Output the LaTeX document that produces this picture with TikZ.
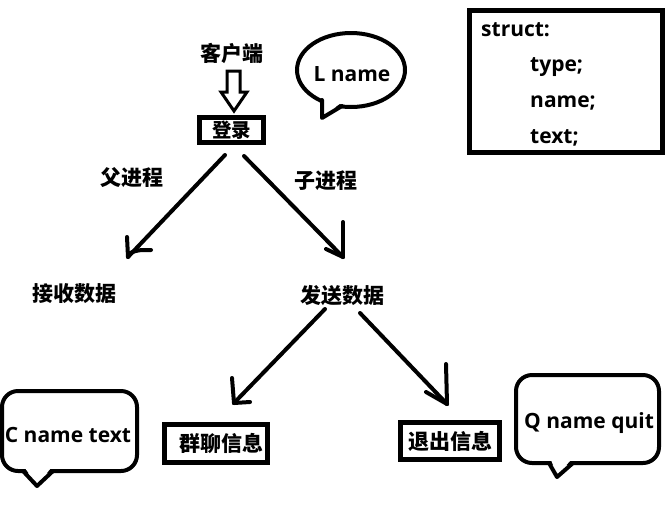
\documentclass[tikz,border=0pt]{standalone}
\usepackage{fontspec}
\setmainfont{Open Sans}
\newfontfamily\cjk{Noto Sans CJK SC}
\tikzset{
  cn/.style={inner sep=0pt, font=\cjk\bfseries\fontsize{21}{25}\selectfont},
  lt/.style={inner sep=0pt, font=\bfseries\fontsize{21}{25}\selectfont},
  ink/.style={line width=4pt, line cap=round, line join=round},
  boxline/.style={line width=5pt},
}
\begin{document}
\begin{tikzpicture}[x=1pt,y=-1pt]
\useasboundingbox (0,0) rectangle (671,523);
% client and login
\node[cn] (client) at (232,53) {客户端};
\draw[line width=3pt, line join=miter] (227,71) -- (240,71) -- (240,92) -- (247,92) -- (234,111) -- (221,92) -- (227,92) -- cycle;
\node[cn, draw, boxline, font=\cjk\bfseries\fontsize{19.5}{23}\selectfont, minimum width=64pt, minimum height=25pt, text height=17pt, text depth=2pt] (login) at (231.5,130) {登录};
% L name bubble
\draw[line width=4pt] (351,70) ellipse [x radius=54, y radius=37];
\fill[white] (323,98) -- (323,116) -- (341,103) -- cycle;
\draw[ink] (322,100) -- (322,118) -- (342,106);
\node[lt] (lname) at (352,74) {L name};
% struct box
\draw[boxline] (469,10) rectangle (662,152);
\node[lt, anchor=base west] (st) at (481,36) {struct:};
\node[lt, anchor=base west] (sty) at (530,71) {type;};
\node[lt, anchor=base west] (stn) at (530,107) {name;};
\node[lt, anchor=base west] (stx) at (530,143) {text;};
% first level
\coordinate (lstart) at (225,155);
\coordinate (lend) at (128,257);
\coordinate (rstart) at (244,156);
\coordinate (rend) at (343,257);
\draw[ink] (lstart) -- (lend);
\draw[ink] (127,237) -- (lend);
\draw[ink] (130,253) .. controls (138,250) .. (151,250);
\draw[ink] (rstart) -- (rend);
\draw[ink] (343,222) -- (rend);
\draw[ink] (326,249) -- (rend);
\node[cn] (father) at (132,178) {父进程};
\node[cn] (child) at (326,181) {子进程};
\node[cn] (recv) at (74,294) {接收数据};
\node[cn] (send) at (342,296) {发送数据};
% second level
\coordinate (l2start) at (325,309);
\coordinate (l2end) at (234,403);
\coordinate (r2start) at (360,313);
\coordinate (r2end) at (447,404);
\draw[ink] (l2start) -- (l2end);
\draw[ink] (232,378) -- (l2end);
\draw[ink] (l2end) -- (250,402);
\draw[ink] (r2start) -- (r2end);
\draw[ink] (446,364) -- (r2end);
\draw[ink] (426,392) -- (r2end);
\node[cn, draw, boxline, minimum width=103pt, minimum height=38pt] (group) at (215.5,443) {\hspace*{12pt}群聊信息};
\node[cn, draw, boxline, minimum width=99pt, minimum height=37pt] (quit) at (450,441) {退出信息};
% C name text bubble
\draw[line width=4pt, rounded corners=16pt] (2,391) rectangle (137,471);
\fill[white] (25,468) -- (37,485) -- (51,468) -- cycle;
\draw[ink] (23,471) -- (37,486) -- (53,471);
\node[lt] (cname) at (68,435) {C name text};
% Q name quit bubble
\draw[line width=4pt, rounded corners=16pt] (516,375) rectangle (659,463);
\fill[white] (551,460) -- (557,475) -- (571,460) -- cycle;
\draw[ink] (549,463) -- (557,477) -- (573,463);
\node[lt] (qname) at (589,423) {Q name quit};
\end{tikzpicture}
\end{document}
